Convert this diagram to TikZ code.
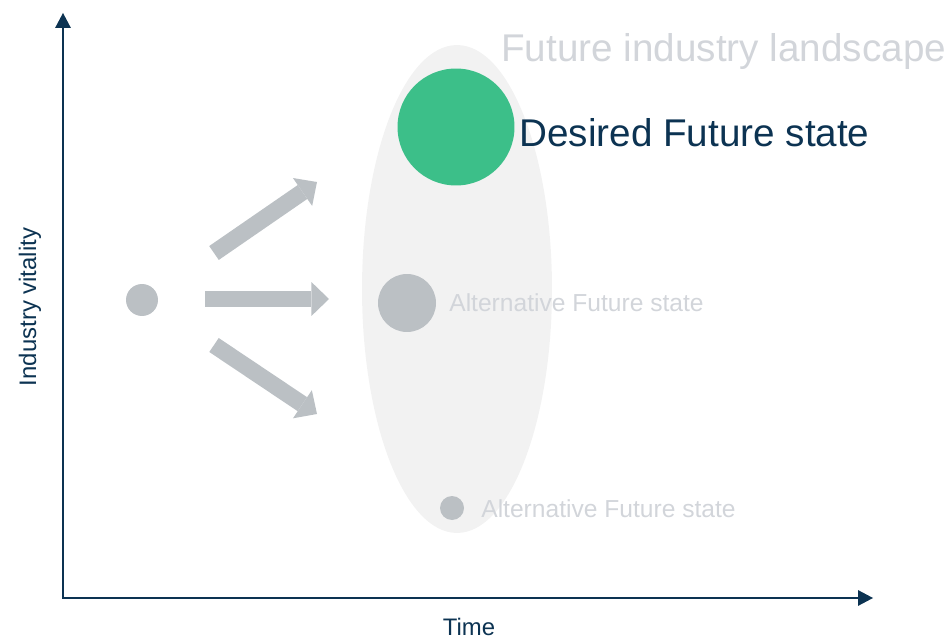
\documentclass[tikz,border=0pt]{standalone}
\usepackage{fontspec}
\setmainfont{Liberation Sans}
\usetikzlibrary{arrows.meta}

\definecolor{navy}{HTML}{0C3352}
\definecolor{leaf}{HTML}{3CBF89}
\definecolor{stone}{HTML}{BBC0C4}
\definecolor{mist}{HTML}{D2D5DA}
\definecolor{haze}{HTML}{F2F2F2}

\begin{document}
\begin{tikzpicture}[x=0.02cm, y=-0.02cm]
		\tikzset{state/.style = {shape=circle, fill=stone, inner sep=0pt},
			tag/.style = {inner sep=0pt, anchor=base west, text=mist},
			axis/.style = {draw=navy, line width=1.4pt, {Triangle[length=8.5pt,width=9pt,line width=0pt]}-{Triangle[length=8.5pt,width=9pt,line width=0pt]}},
			move/.style = {draw=stone, line width=9.6pt, -{Triangle[length=10pt,width=19.3pt,line width=0pt]}}}

		\useasboundingbox (0,0) rectangle (949,638);

		\fill[haze] (457,289) ellipse [x radius=1.9cm, y radius=4.88cm];

		\coordinate (O) at (63,598);
		\coordinate (Y) at (63,13);
		\coordinate (X) at (873,598);
		\draw[axis] (Y) -- (O) -- (X);

		\node[text=navy, font=\fontsize{13.6}{16}\selectfont, rotate=90, anchor=base, inner sep=0pt] (V) at (36,307) {Industry vitality};
		\node[text=navy, font=\fontsize{13.6}{16}\selectfont, anchor=base, inner sep=0pt] (T) at (469,635) {Time};

		\node[state, minimum size=0.64cm] (S) at (142,300) {};

		\node[state, fill=leaf, minimum size=2.34cm] (D) at (456,127) {};
		\node[state, minimum size=1.16cm] (A_1) at (407,303) {};
		\node[state, minimum size=0.48cm] (A_2) at (452,508) {};

		\node[tag, font=\fontsize{22}{26}\selectfont] (L) at (501,62) {Future industry landscape};
		\node[tag, text=navy, font=\fontsize{22}{26}\selectfont] (D_t) at (519,147) {Desired Future state};
		\node[tag, font=\fontsize{14}{17}\selectfont] (A_t1) at (449,312) {Alternative Future state};
		\node[tag, font=\fontsize{14}{17}\selectfont] (A_t2) at (481,517) {Alternative Future state};

		\coordinate (u_0) at (214,253);
		\coordinate (u_1) at (317,182);
		\coordinate (m_0) at (205,299);
		\coordinate (m_1) at (329,299);
		\coordinate (d_0) at (214,345);
		\coordinate (d_1) at (317,414);

		\draw[move] (u_0) -- (u_1);
		\draw[move] (m_0) -- (m_1);
		\draw[move] (d_0) -- (d_1);

	\end{tikzpicture}
\end{document}
